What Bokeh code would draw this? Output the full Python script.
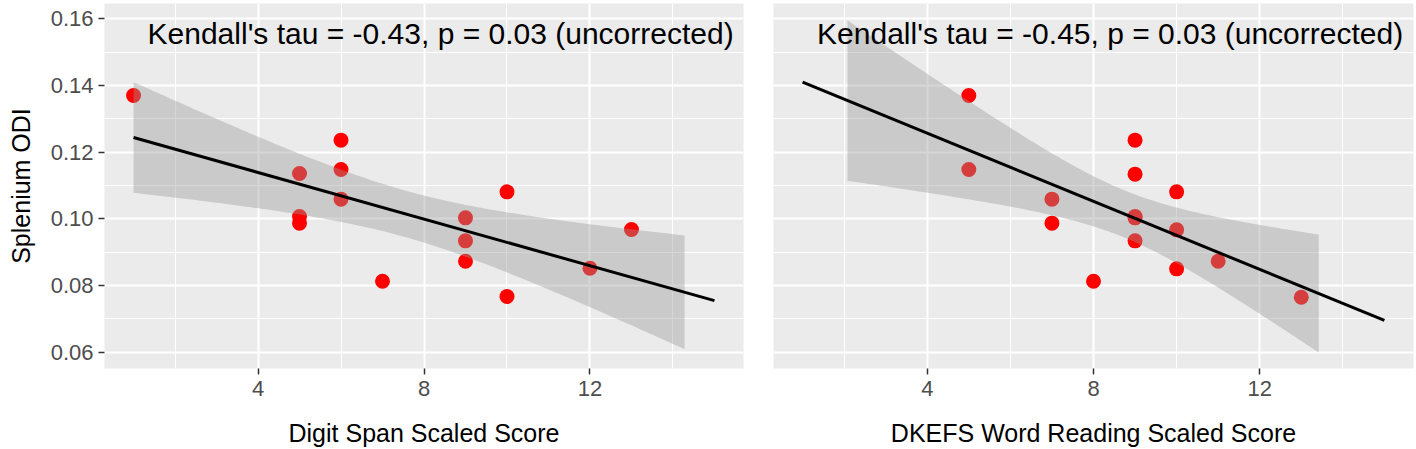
import numpy as np
from bokeh.plotting import figure
from bokeh.models import FixedTicker, Range1d, PrintfTickFormatter
from bokeh.layouts import row
from bokeh.embed import file_html
from bokeh.resources import INLINE
from bokeh.core.properties import value

# ---- data ----
digit_span = [1, 5, 5, 5, 6, 6, 6, 7, 9, 9, 9, 10, 10, 12, 13]
odi_digit = [0.1370, 0.1136, 0.1007, 0.0987, 0.1236, 0.1148, 0.1059, 0.0813,
             0.1003, 0.0934, 0.0873, 0.1081, 0.0767, 0.0852, 0.0968]

word_reading = [5, 5, 7, 7, 8, 9, 9, 9, 9, 9, 10, 10, 10, 11, 13]
odi_word = [0.1370, 0.1148, 0.1059, 0.0987, 0.0813, 0.1236, 0.1134, 0.1007,
            0.1003, 0.0934, 0.1081, 0.0967, 0.0850, 0.0873, 0.0765]

fit_x_span = [1, 15]            # extent of the fitted line (both panels)
band_x_digit = [1.0, 14.28]     # extent of the confidence band, left panel
band_x_word = [2.08, 13.42]     # extent of the confidence band, right panel

label_digit = "Kendall's tau = -0.43, p = 0.03 (uncorrected)"
label_word = "Kendall's tau = -0.45, p = 0.03 (uncorrected)"
x_title_digit = "Digit Span Scaled Score"
x_title_word = "DKEFS Word Reading Scaled Score"
y_title = "Splenium ODI"

x_ticks = [4, 8, 12]
x_minor = [2, 6, 10, 14]
y_ticks = [0.06, 0.08, 0.10, 0.12, 0.14, 0.16]
y_minor = [0.07, 0.09, 0.11, 0.13, 0.15]

T975_DF13 = 2.160369  # t quantile for 95% CI, n-2 = 13

FONT = "Liberation Sans"
X_RANGE = (0.3, 15.7)
Y_RANGE = (0.05511, 0.16459)


def ols(xs, ys):
    x = np.asarray(xs, float)
    y = np.asarray(ys, float)
    n = len(x)
    xb, yb = x.mean(), y.mean()
    sxx = ((x - xb) ** 2).sum()
    b = ((x - xb) * (y - yb)).sum() / sxx
    a = yb - b * xb
    s = np.sqrt(((y - (a + b * x)) ** 2).sum() / (n - 2))
    return a, b, s, n, xb, sxx


def make_panel(xs, ys, band_x, label, xtitle, show_y, width, mbl, mbr):
    p = figure(width=width, height=449, output_backend="svg", toolbar_location=None,
               x_range=Range1d(*X_RANGE), y_range=Range1d(*Y_RANGE),
               min_border_left=mbl, min_border_right=mbr,
               min_border_top=3, min_border_bottom=81)
    p.background_fill_color = "#EBEBEB"
    p.border_fill_color = "white"
    p.outline_line_color = None

    p.xaxis.ticker = FixedTicker(ticks=x_ticks, minor_ticks=x_minor)
    p.yaxis.ticker = FixedTicker(ticks=y_ticks, minor_ticks=y_minor)
    p.yaxis.formatter = PrintfTickFormatter(format="%.2f")
    for g in (p.xgrid, p.ygrid):
        g.grid_line_color = "white"
        g.grid_line_width = 2
        g.minor_grid_line_color = "white"
        g.minor_grid_line_width = 1
    for ax in (p.xaxis, p.yaxis):
        ax.axis_line_color = None
        ax.major_tick_line_color = "#333333"
        ax.major_tick_line_width = 1.5
        ax.major_tick_out = 6
        ax.major_tick_in = 0
        ax.minor_tick_line_color = None
        ax.major_label_text_font = FONT
        ax.major_label_text_font_size = "22px"
        ax.major_label_text_color = "#4D4D4D"
        ax.major_label_standoff = 5
        ax.axis_label_text_font = FONT
        ax.axis_label_text_font_size = "25px"
        ax.axis_label_text_font_style = "normal"
        ax.axis_label_text_color = "black"
    p.xaxis.axis_label = xtitle
    p.xaxis.axis_label_standoff = 20
    p.xaxis.major_label_standoff = 6
    if show_y:
        p.yaxis.axis_label = y_title
        p.yaxis.axis_label_standoff = 13
    else:
        p.yaxis.visible = False

    a, b, s, n, xb, sxx = ols(xs, ys)

    # points first, band drawn over them (as in the reference)
    p.scatter(xs, ys, size=15, fill_color="#FF0000", line_color=None)

    bx = np.linspace(band_x[0], band_x[1], 120)
    fit = a + b * bx
    half = T975_DF13 * s * np.sqrt(1.0 / n + (bx - xb) ** 2 / sxx)
    p.varea(x=bx, y1=fit - half, y2=fit + half, fill_color="#999999", fill_alpha=0.4)

    lx = np.array(fit_x_span, float)
    p.line(lx, a + b * lx, line_color="black", line_width=3)

    p.text(x=[8.4], y=[0.1556], text=[label], text_align="center",
           text_baseline="middle", text_font=value(FONT),
           text_font_size="30px", text_color="black")
    return p


p1 = make_panel(digit_span, odi_digit, band_x_digit, label_digit, x_title_digit,
                True, 758, 104, 15)
p2 = make_panel(word_reading, odi_word, band_x_word, label_word, x_title_word,
                False, 658, 15, 3)

layout = row(p1, p2)
open("out.html", "w").write(file_html(layout, INLINE))
